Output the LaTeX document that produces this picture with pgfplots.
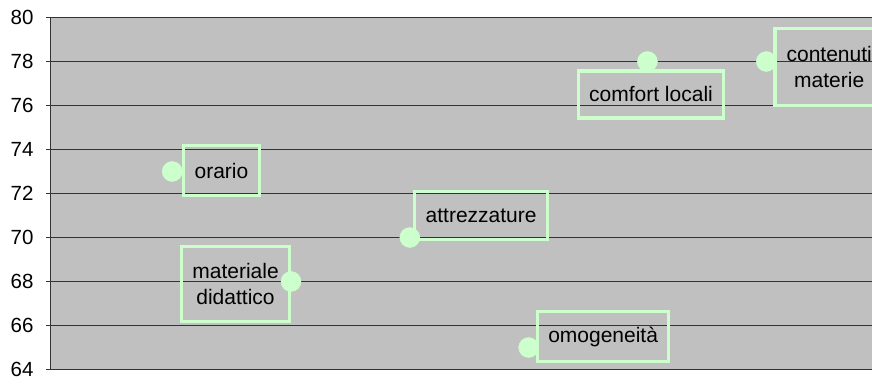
\documentclass[border=0pt]{standalone}
\usepackage{pgfplots}
\pgfplotsset{compat=1.18}
\usepackage{fontspec}
\setmainfont{Liberation Sans}
\definecolor{plotbg}{HTML}{C0C0C0}
\definecolor{ptgreen}{HTML}{CCFFCC}
\definecolor{gridc}{HTML}{333333}
\tikzset{lbl/.style={draw=ptgreen, line width=3.5pt, align=center, inner sep=0pt,
    font=\fontsize{21}{26}\selectfont}}
\begin{document}
\begin{tikzpicture}[x=1pt,y=1pt]
\path[use as bounding box] (-51,-13.5) rectangle (821,369.5);
\begin{axis}[
  at={(0,0)}, anchor=south west,
  scale only axis, width=821pt, height=352pt,
  xmin=-0.02, xmax=6.89, ymin=64, ymax=80,
  ytick={64,66,...,80},
  xtick=\empty,
  axis x line=none,
  axis y line=left,
  axis line style={-, draw=gridc, line width=1pt},
  ytick align=outside,
  major tick length=5pt,
  tick style={gridc, line width=0.8pt},
  ymajorgrids,
  grid style={gridc, line width=0.9pt},
  axis background/.style={fill=plotbg},
  yticklabel style={font=\fontsize{20.5}{20.5}\selectfont, xshift=-9pt},
  /pgf/number format/assume math mode=true,
  clip=false,
]
\addplot[ptgreen, only marks, mark=*, mark size=10pt,
  mark options={draw=ptgreen, fill=ptgreen}] coordinates {
  (1,73) (2,68) (3,70) (4,65) (5,78) (6,78)
};
\node[lbl, minimum width=76pt, minimum height=50pt] at (axis cs:1.415,73.04) {orario};
\node[lbl, minimum width=108pt, minimum height=75pt] at (axis cs:1.533,67.88) {materiale\\didattico};
\node[lbl, minimum width=133pt, minimum height=48pt] at (axis cs:3.60,70.99) {attrezzature};
\node[lbl, minimum width=131pt, minimum height=50pt] at (axis cs:4.627,65.49) {omogeneità};
\node[lbl, minimum width=145pt, minimum height=47pt] at (axis cs:5.03,76.51) {comfort locali};
\node[lbl, minimum width=108pt, minimum height=77pt] at (axis cs:6.53,77.74) {contenuti\\materie};
\end{axis}
\end{tikzpicture}
\end{document}
